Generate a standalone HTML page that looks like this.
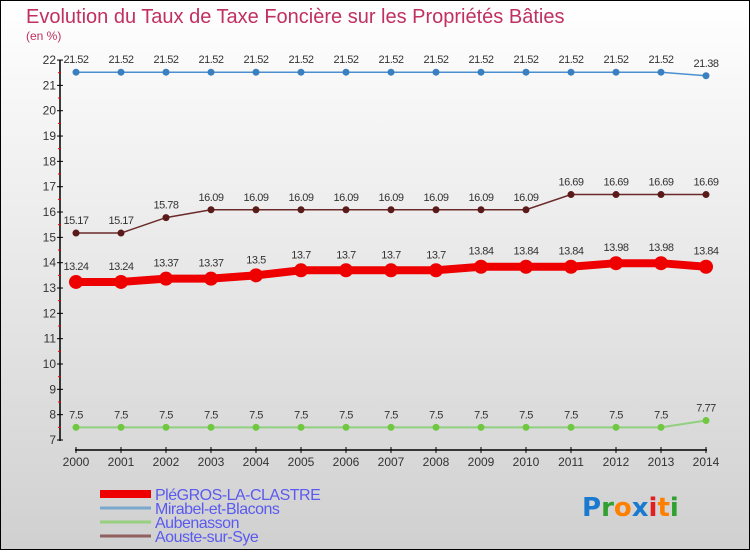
<!DOCTYPE html>
<html><head><meta charset="utf-8"><style>
body{margin:0;width:750px;height:550px;overflow:hidden;font-family:"Liberation Sans",sans-serif}
</style></head><body>
<svg id="c" width="750" height="550" xmlns="http://www.w3.org/2000/svg">
<defs><linearGradient id="bg" x1="0" y1="0" x2="0" y2="1"><stop offset="0" stop-color="#ffffff"/><stop offset="1" stop-color="#d0d0d0"/></linearGradient></defs>
<rect x="0.5" y="0.5" width="749" height="549" fill="url(#bg)" stroke="#000"/>
<text x="26" y="23" font-size="20" fill="#c03060">Evolution du Taux de Taxe Foncière sur les Propriétés Bâties</text>
<text x="26" y="40" font-size="12" fill="#c03060">(en %)</text>
<g id="axes"></g><g id="series"></g><g id="legend"></g>
<g font-size="26" font-weight="bold" font-family="'DejaVu Sans',sans-serif">
<text x="582" y="516"><tspan fill="#1a7ad0">P</tspan><tspan fill="#30a030">r</tspan><tspan fill="#ff8000">o</tspan><tspan fill="#1a7ad0">x</tspan><tspan fill="#e02020">i</tspan><tspan fill="#ff8000">t</tspan><tspan fill="#30a030">i</tspan></text></g>
</svg>
<script>
const years=[2000,2001,2002,2003,2004,2005,2006,2007,2008,2009,2010,2011,2012,2013,2014];
const yTicks=[7,8,9,10,11,12,13,14,15,16,17,18,19,20,21,22];
const plegros=[13.24,13.24,13.37,13.37,13.5,13.7,13.7,13.7,13.7,13.84,13.84,13.84,13.98,13.98,13.84];
const mirabel=[21.52,21.52,21.52,21.52,21.52,21.52,21.52,21.52,21.52,21.52,21.52,21.52,21.52,21.52,21.38];
const aubenasson=[7.5,7.5,7.5,7.5,7.5,7.5,7.5,7.5,7.5,7.5,7.5,7.5,7.5,7.5,7.77];
const aouste=[15.17,15.17,15.78,16.09,16.09,16.09,16.09,16.09,16.09,16.09,16.09,16.69,16.69,16.69,16.69];
const names=["PléGROS-LA-CLASTRE","Mirabel-et-Blacons","Aubenasson","Aouste-sur-Sye"];
const NS="http://www.w3.org/2000/svg";
const xS=i=>76+i*45;
const yS=v=>440-(v-7)*25.33;
function mk(p,t,a){const e=document.createElementNS(NS,t);for(const k in a)e.setAttribute(k,a[k]);p.appendChild(e);return e;}
const ax=document.getElementById('axes');
let l=mk(ax,'line',{x1:60,y1:60,x2:60,y2:441,stroke:'#000','stroke-width':1.5});


l=mk(ax,'line',{x1:75,y1:450,x2:707,y2:450,stroke:'#000','stroke-width':1.5});


yTicks.forEach(v=>{
 mk(ax,'line',{x1:57,y1:yS(v),x2:63,y2:yS(v),stroke:'#000'});
 if(v<22)mk(ax,'line',{x1:58,y1:yS(v+0.5),x2:61,y2:yS(v+0.5),stroke:'#e00'});
 const t=mk(ax,'text',{x:56,y:yS(v)+4,'font-size':12,'text-anchor':'end',fill:'#333'});t.textContent=v;
 
 
});
years.forEach((y,i)=>{
 mk(ax,'line',{x1:xS(i),y1:447,x2:xS(i),y2:453,stroke:'#000'});
 const t=mk(ax,'text',{x:xS(i),y:466,'font-size':12,'text-anchor':'middle',fill:'#333'});t.textContent=y;
 
 
});
const sg=document.getElementById('series');
function draw(vals,color,lw,r,dot,name){
 const g=mk(sg,'g',{});
 
 
 mk(g,'polyline',{points:vals.map((v,i)=>xS(i)+','+yS(v)).join(' '),fill:'none',stroke:color,'stroke-width':lw});
 vals.forEach((v,i)=>{
  const c=mk(g,'circle',{cx:xS(i),cy:yS(v),r:r,fill:dot});
  
  
  const t=mk(g,'text',{x:xS(i),y:yS(v)-9-(r>5?3:0),'font-size':11,'text-anchor':'middle',fill:'#333','letter-spacing':'-0.5'});t.textContent=v;
  
  
 });
}
draw(mirabel,'#4a90d0',1.5,3.5,'#3a80c0','series-mirabel');
draw(aubenasson,'#90d080',2,3.5,'#70c840','series-aubenasson');
draw(aouste,'#6a2a2a',1.5,3.5,'#5a1a1a','series-aouste');
draw(plegros,'#ee0000',8,7,'#ee0000','series-plegros');
const lg=document.getElementById('legend');
const cols=['#ee0000','#7aa8cc','#98d080','#906060'];const wd=[8,3,3,3];
names.forEach((n,i)=>{
 const g=mk(lg,'g',{});
 
 
 const y=494+i*14;
 mk(g,'line',{x1:100,y1:y,x2:151,y2:y,stroke:cols[i],'stroke-width':wd[i]});
 const t=mk(g,'text',{x:155,y:y+6,'font-size':16,fill:'#5a5af0','letter-spacing':'-0.5'});t.textContent=n;
});
</script>
</body></html>
